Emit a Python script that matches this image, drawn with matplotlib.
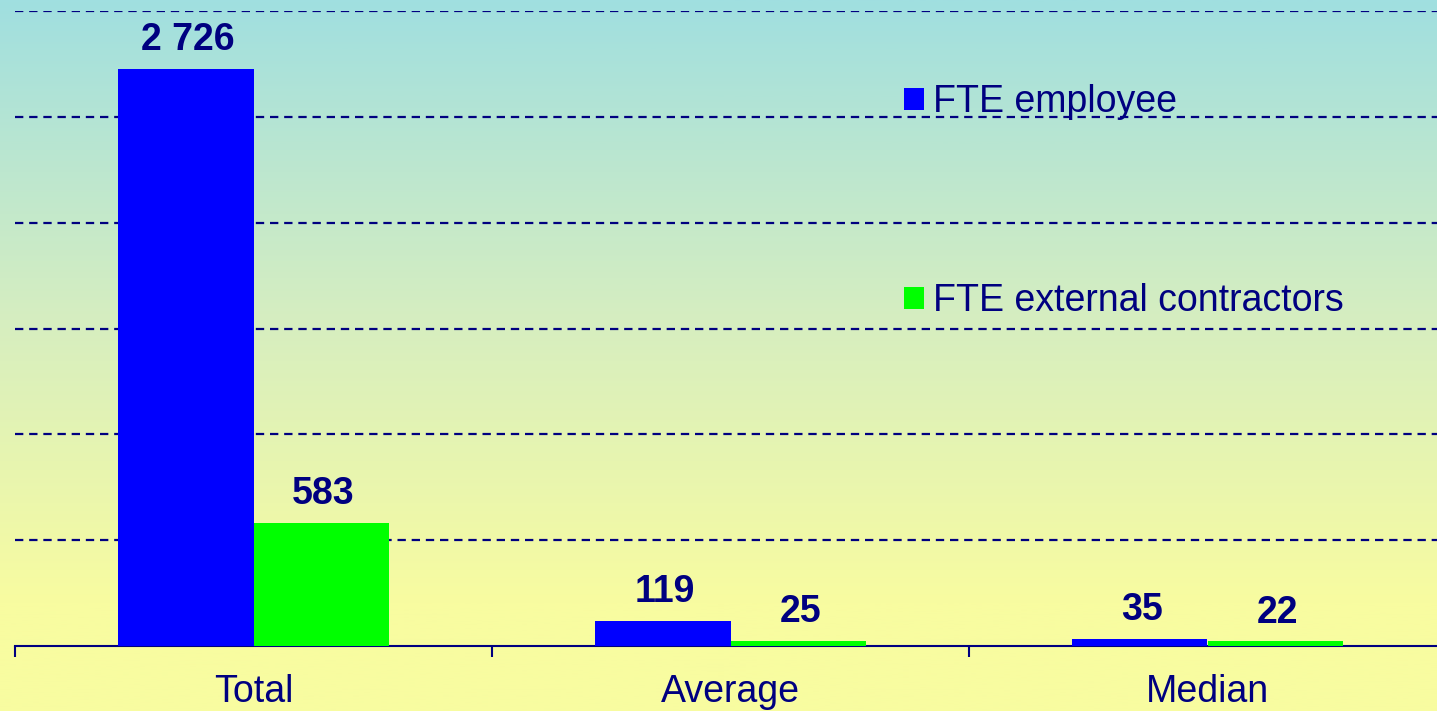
import numpy as np
import matplotlib
matplotlib.use("Agg")
import matplotlib.pyplot as plt
from matplotlib.colors import LinearSegmentedColormap

categories = ["Total", "Average", "Median"]
employee = [2726, 119, 35]
contractors = [583, 25, 22]
value_labels_emp = ["2 726", "119", "35"]
value_labels_con = ["583", "25", "22"]
series_names = ["FTE employee", "FTE external contractors"]

NAVY = "#000080"
BLUE = "#0000FF"
GREEN = "#00FF00"

plt.rcParams['font.family'] = ['Liberation Sans', 'DejaVu Sans']
plt.rcParams['lines.scale_dashes'] = False

W, H = 1437, 711
fig = plt.figure(figsize=(W / 100, H / 100), dpi=100)

# gradient background
bg = fig.add_axes([0, 0, 1, 1], zorder=-10)
cmap = LinearSegmentedColormap.from_list(
    "bg", [(0.0, "#a0dfe0"), (0.45, "#d6eec0"), (0.85, "#f8fca0"), (1.0, "#f8fca0")])
grad = np.linspace(0, 1, 512).reshape(-1, 1)
bg.imshow(grad, aspect="auto", cmap=cmap, extent=[0, 1, 0, 1], origin="upper")
bg.axis("off")

left = 15 / W
bottom = (H - 646) / H
top = (H - 11) / H
ax = fig.add_axes([left, bottom, 1 - left, top - bottom])
ax.set_facecolor("none")

x = np.arange(len(categories))
bw = 0.285
b1 = ax.bar(x - bw / 2, employee, bw, color=BLUE, label=series_names[0], zorder=3)
b2 = ax.bar(x + bw / 2, contractors, bw, color=GREEN, label=series_names[1], zorder=3)

for bars, labels in ((b1, value_labels_emp), (b2, value_labels_con)):
    for rect, lab in zip(bars, labels):
        ax.annotate(lab, (rect.get_x() + rect.get_width() / 2, rect.get_height()),
                    xytext=(1.5, 13.5), textcoords="offset points", ha="center", va="baseline",
                    fontsize=27, fontweight="bold", color=NAVY)

ax.set_ylim(0, 3000)
ax.set_xlim(-0.5, 2.5 - 9 / 477)
ax.set_yticks([500, 1000, 1500, 2000, 2500, 3000])
ax.yaxis.grid(True, color=NAVY, linewidth=1.6, linestyle=(0, (6.0, 4.2)), zorder=1)
ax.tick_params(axis="y", left=False, labelleft=False)
ax.set_xticks(x)
ax.set_xticklabels(categories, fontsize=27, color=NAVY)
ax.set_xticks([-0.5, 0.5, 1.5], minor=True)
ax.tick_params(axis="x", which="major", length=0, pad=20)
ax.tick_params(axis="x", which="minor", length=8, width=1.5, color=NAVY, direction="out")
for s in ["left", "right", "top"]:
    ax.spines[s].set_visible(False)
ax.spines["bottom"].set_color(NAVY)
ax.spines["bottom"].set_linewidth(1.5)
ax.set_axisbelow(True)

leg = ax.legend(loc="upper left", bbox_to_anchor=(904 / W, (H - 84) / H),
                bbox_transform=fig.transFigure, frameon=False, fontsize=27,
                handlelength=0.52, handleheight=0.52, handletextpad=0.26,
                labelspacing=4.35, borderpad=0, borderaxespad=0)
for t in leg.get_texts():
    t.set_color(NAVY)

fig.savefig("out.png", dpi=100)
